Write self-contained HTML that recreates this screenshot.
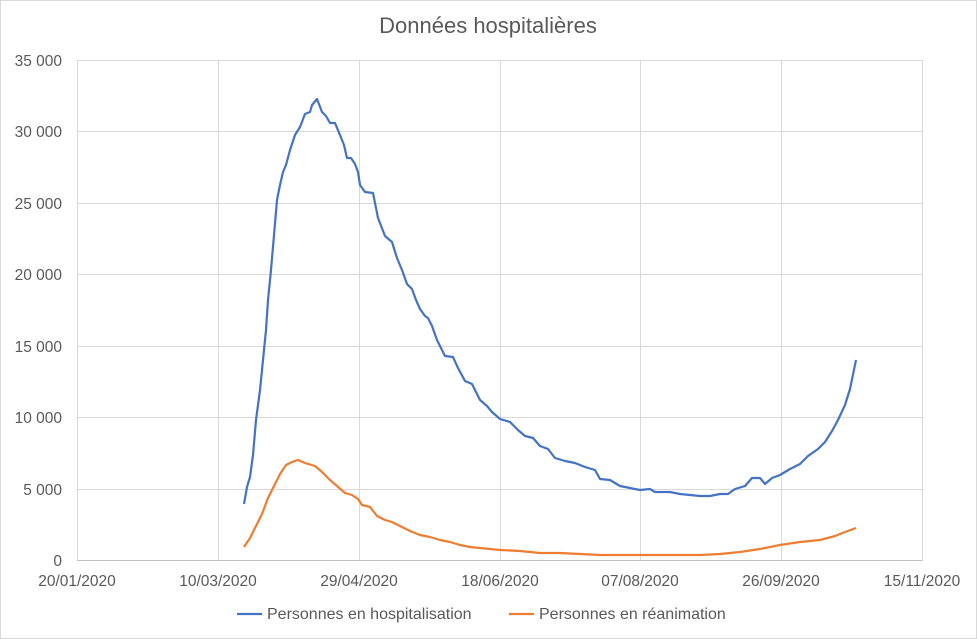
<!DOCTYPE html>
<html><head><meta charset="utf-8"><style>
html,body{margin:0;padding:0;background:#fff;}
svg{display:block;font-family:"Liberation Sans",sans-serif;}
</style></head><body>
<svg width="977" height="639" viewBox="0 0 977 639" xmlns="http://www.w3.org/2000/svg">
<rect x="0.5" y="0.5" width="976" height="638" fill="#fff" stroke="#d9d9d9"/>
<text x="488" y="33" text-anchor="middle" font-size="22" fill="#595959">Données hospitalières</text>
<g stroke="#d9d9d9" stroke-width="1">
<line x1="77" y1="60.5" x2="922" y2="60.5"/>
<line x1="77" y1="131.5" x2="922" y2="131.5"/>
<line x1="77" y1="203.5" x2="922" y2="203.5"/>
<line x1="77" y1="274.5" x2="922" y2="274.5"/>
<line x1="77" y1="346.5" x2="922" y2="346.5"/>
<line x1="77" y1="417.5" x2="922" y2="417.5"/>
<line x1="77" y1="489.5" x2="922" y2="489.5"/>
<line x1="77.5" y1="60" x2="77.5" y2="561"/>
<line x1="218.5" y1="60" x2="218.5" y2="561"/>
<line x1="359.5" y1="60" x2="359.5" y2="561"/>
<line x1="500.5" y1="60" x2="500.5" y2="561"/>
<line x1="640.5" y1="60" x2="640.5" y2="561"/>
<line x1="781.5" y1="60" x2="781.5" y2="561"/>
<line x1="922.5" y1="60" x2="922.5" y2="561"/>
</g>
<line x1="77" y1="560.5" x2="922" y2="560.5" stroke="#bfbfbf"/>
<g font-size="15.5" fill="#595959" text-anchor="end">
<text x="62" y="66">35 000</text><text x="62" y="137">30 000</text><text x="62" y="209">25 000</text>
<text x="62" y="280">20 000</text><text x="62" y="352">15 000</text><text x="62" y="423">10 000</text>
<text x="62" y="495">5 000</text><text x="62" y="566">0</text>
</g>
<g font-size="15.5" fill="#595959" text-anchor="middle">
<text x="77" y="586">20/01/2020</text><text x="218" y="586">10/03/2020</text><text x="359" y="586">29/04/2020</text>
<text x="500" y="586">18/06/2020</text><text x="640" y="586">07/08/2020</text><text x="781" y="586">26/09/2020</text>
<text x="922" y="586">15/11/2020</text>
</g>
<polyline fill="none" stroke="#4472c4" stroke-width="2.2" stroke-linejoin="round" points="244,504 247,487 250,477 253,455 256,420 260,390 263,360 266,330 268,300 271,270 274,235 277,200 280,185 283,172 286,165 290,150 295,135 300,127 305,114 310,112 312,105 317,99 322,112 326,116 330,123 335,123 340,135 344,145 347,158 351,158 355,164 358,172 360,185 365,192 373,193 378,218 385,236 392,242 397,258 402,270 407,284 412,289 416,300 420,309 425,316 428,318 432,326 437,340 442,350 445,356 453,357 458,368 465,381 472,384 476,392 480,400 487,406 492,412 500,419 510,422 518,430 525,436 533,438 540,446 548,449 555,458 565,461 575,463 585,467 595,470 600,479 610,480 620,486 630,488 640,490 650,489 655,492 670,492 680,494 690,495 700,496 710,496 720,494 728,494 735,489 745,486 752,478 760,478 765,484 772,478 780,475 790,469 800,464 808,456 818,449 825,442 832,431 838,420 845,405 850,389 856,360"/>
<polyline fill="none" stroke="#ed7d31" stroke-width="2.2" stroke-linejoin="round" points="244,547 250,538 256,526 262,514 268,498 274,486 280,474 286,465 292,462 298,460 305,463 315,466 322,472 330,480 337,486 345,493 352,495 358,499 362,505 370,507 377,516 385,520 392,522 400,526 410,531 420,535 430,537 440,540 450,542 460,545 470,547 480,548 490,549 500,550 520,551 540,553 560,553 580,554 600,555 620,555 640,555 660,555 680,555 700,555 720,554 740,552 760,549 780,545 800,542 820,540 835,536 845,532 856,528"/>
<line x1="237" y1="614" x2="262" y2="614" stroke="#4472c4" stroke-width="2.2"/>
<text x="267" y="619" font-size="16" fill="#595959">Personnes en hospitalisation</text>
<line x1="509" y1="614" x2="534" y2="614" stroke="#ed7d31" stroke-width="2.2"/>
<text x="539" y="619" font-size="16" fill="#595959">Personnes en réanimation</text>
</svg>
</body></html>
